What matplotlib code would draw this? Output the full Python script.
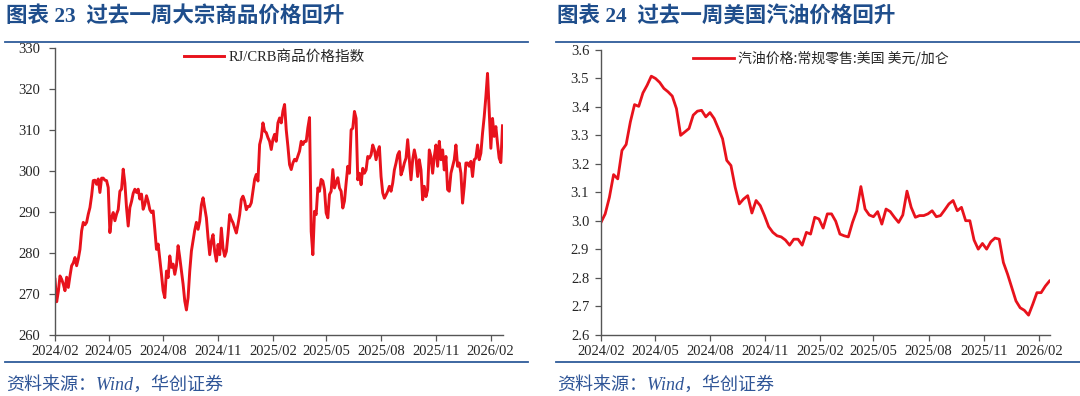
import matplotlib
matplotlib.use('Agg')
import matplotlib.pyplot as plt
import matplotlib.dates as mdates
from matplotlib.lines import Line2D
from matplotlib.ticker import FormatStrFormatter
import pandas as pd

plt.rcParams['font.family'] = ['Liberation Serif', 'Noto Sans CJK SC']

# Chart 23: RJ/CRB commodity index (roughly every 3 days)
crb_start, crb_end = '2024-02-01', '2026-02-21'
crb_values = [
    273.5, 268.0, 270.5, 274.3, 273.5, 272.3, 270.7, 274.0, 271.5, 274.3,
    276.8, 277.5, 278.8, 276.8, 278.5, 280.8, 285.3, 287.4, 286.8, 287.4,
    289.4, 291.0, 293.9, 297.6, 297.7, 296.7, 298.0, 294.7, 298.2, 298.2,
    297.7, 297.6, 295.9, 284.9, 288.6, 289.8, 287.8, 289.4, 290.5, 295.0,
    295.5, 300.4, 297.0, 291.0, 286.5, 291.0, 292.5, 294.5, 295.5, 294.7,
    295.5, 293.1, 294.3, 290.6, 291.8, 293.9, 292.5, 290.5, 289.8, 290.2,
    285.7, 280.8, 282.1, 278.4, 274.7, 270.7, 269.0, 275.5, 273.9, 279.2,
    276.4, 277.2, 274.7, 276.8, 281.7, 278.8, 275.5, 272.3, 268.2, 266.0,
    269.0, 275.5, 280.4, 282.9, 285.5, 287.4, 285.7,
    287.7, 291.7, 293.4, 290.9, 288.5, 283.6, 279.5, 282.8, 284.4, 280.3,
    277.9, 282.0, 279.5, 286.0, 281.1, 279.1, 280.3, 284.4, 289.3, 288.1,
    287.3, 286.0, 284.8, 286.9, 289.3, 293.0, 293.8, 292.6, 290.5, 291.3,
    291.3, 292.2, 295.0, 297.9, 299.1, 297.5, 306.4, 308.1, 311.7, 309.7,
    309.3, 308.1, 307.2, 305.2, 307.7, 308.9, 307.2, 311.7, 312.9, 311.7,
    314.6, 316.2, 310.0, 306.0, 301.5, 300.3, 301.9, 302.8, 302.4, 303.6,
    304.8, 307.2, 306.4, 307.2, 307.2, 310.5, 313.0, 285.2, 279.5, 290.1,
    289.3, 295.8, 295.0, 297.9, 297.5, 295.4, 289.7, 288.5, 294.2, 295.0,
    300.3, 295.8, 297.1, 298.3, 295.8, 295.0, 290.9, 292.6,
    297.0, 301.1, 299.4, 310.0, 310.4, 314.5, 312.8, 297.8, 299.4, 296.6,
    300.6, 299.4, 300.2, 303.5, 303.1, 303.9, 306.3, 305.1, 302.7, 304.7,
    305.9, 298.6, 294.6, 293.3, 294.1, 295.0, 296.2, 295.0, 297.0, 300.2,
    301.9, 303.9, 304.7, 299.0, 300.2, 301.9, 303.1, 307.6, 302.7, 297.8,
    302.7, 305.1, 303.1, 298.6, 302.7, 300.2, 292.9, 296.2, 293.7, 295.4,
    305.1, 303.5, 299.4, 303.5, 306.3, 301.1, 307.2, 302.7, 305.1, 300.2,
    303.5, 295.4, 295.0, 299.4, 301.1, 302.7, 306.3, 301.1, 301.9, 299.4,
    292.1, 296.2, 301.9, 301.9, 301.1, 302.3, 298.6, 302.7, 303.1, 306.3,
    302.7, 304.3, 309.2, 313.2, 318.1, 323.8, 314.9, 305.5, 312.8, 308.4,
    310.8, 306.7, 303.1, 302.0, 311.0,
]

# Chart 24: US regular retail gasoline, USD/gallon (weekly)
gas_start = '2024-02-01'
gas_values = [
    2.994, 3.024, 3.082, 3.162, 3.147, 3.247, 3.268, 3.347, 3.408, 3.402,
    3.449, 3.476, 3.508, 3.500, 3.486, 3.465, 3.453, 3.438, 3.394, 3.300,
    3.312, 3.324, 3.371, 3.385, 3.388, 3.365, 3.380, 3.359, 3.324, 3.288,
    3.212, 3.194, 3.118, 3.059, 3.076, 3.088, 3.027, 3.071, 3.053, 3.018,
    2.979, 2.959, 2.947, 2.943, 2.932, 2.914, 2.935, 2.935, 2.914, 2.959,
    2.953, 3.012, 3.006, 2.974, 3.024, 3.024, 2.998, 2.953, 2.947, 2.943,
    2.994, 3.035, 3.120, 3.041, 3.020, 3.014, 3.032, 2.988, 3.041, 3.032,
    3.012, 2.994, 3.020, 3.104, 3.047, 3.012, 3.018, 3.018, 3.024, 3.035,
    3.014, 3.018, 3.038, 3.059, 3.071, 3.035, 3.047, 3.000, 3.000, 2.932,
    2.900, 2.920, 2.900, 2.926, 2.939, 2.935, 2.853, 2.812, 2.765, 2.718,
    2.694, 2.685, 2.668, 2.706, 2.747, 2.747, 2.770, 2.788,
]

crb_dates = pd.date_range(crb_start, crb_end, periods=len(crb_values))
gas_dates = pd.date_range(gas_start, periods=len(gas_values), freq='7D')

red = '#E8121C'
blue = '#1F4E8C'
axis_grey = '#555555'
text_grey = '#262626'

W, H = 1080, 396
fig = plt.figure(figsize=(W / 100, H / 100), dpi=100)


def px_box(x0, x1, y_top, y_bot):
    return [x0 / W, 1 - y_bot / H, (x1 - x0) / W, (y_bot - y_top) / H]


def style_axis(ax, start, end, pad_y):
    for side in ['top', 'right']:
        ax.spines[side].set_visible(False)
    for side in ['left', 'bottom']:
        ax.spines[side].set_color(axis_grey)
        ax.spines[side].set_linewidth(1.0)
    ax.set_xlim(pd.Timestamp(start), pd.Timestamp(end))
    ax.xaxis.set_major_locator(mdates.MonthLocator(bymonth=[2, 5, 8, 11]))
    ax.xaxis.set_major_formatter(mdates.DateFormatter('%Y/%m'))
    ax.tick_params(axis='both', direction='out', length=4, width=0.9,
                   color=axis_grey, labelsize=10.5, labelcolor=text_grey)
    ax.tick_params(axis='x', pad=3.5)
    ax.tick_params(axis='y', pad=pad_y)


# left panel
ax1 = fig.add_axes(px_box(55, 502.5, 48, 334.5))
ax1.plot(crb_dates, crb_values, color=red, lw=2.1, label='RJ/CRB商品价格指数')
ax1.set_ylim(260, 330)
ax1.set_yticks(range(260, 331, 10))
style_axis(ax1, crb_start, crb_end, 6.5)
ax1.legend(loc='center', bbox_to_anchor=(0.49, 0.968), frameon=False,
           fontsize=10.5, handlelength=2.8, handletextpad=0.3,
           labelcolor=text_grey)

# right panel
ax2 = fig.add_axes(px_box(601, 1049.5, 50, 334.5))
ax2.plot(gas_dates, gas_values, color=red, lw=2.0,
         label='汽油价格:常规零售:美国 美元/加仑')
ax2.set_ylim(2.6, 3.6)
ax2.set_yticks([2.6 + 0.1 * i for i in range(11)])
ax2.yaxis.set_major_formatter(FormatStrFormatter('%.1f'))
style_axis(ax2, gas_start, gas_dates[-1], 4.5)
ax2.legend(loc='center', bbox_to_anchor=(0.49, 0.97), frameon=False,
           handlelength=2.9, handletextpad=0.3, labelcolor=text_grey,
           prop={'family': ['Noto Sans CJK SC'], 'size': 10})

# titles, rules and source notes
titles = ['图表 23  过去一周大宗商品价格回升', '图表 24  过去一周美国汽油价格回升']
for x0, x1, title in [(5, 528, titles[0]), (556, 1080, titles[1])]:
    fig.text((x0 + 1) / W, 1 - 16 / H, title, va='center', ha='left',
             fontsize=15.5, fontweight='bold', color=blue)
    for y in (42, 362):
        fig.add_artist(Line2D([x0 / W, x1 / W], [1 - y / H] * 2,
                              transform=fig.transFigure, color='#2E5C9A', lw=1.3))
    fig.text((x0 + 1) / W, 1 - 385 / H, '资料来源：Wind，华创证券', va='center',
             ha='left', fontsize=13, style='italic', color='#2F5597')

fig.savefig('out.png', dpi=100)
